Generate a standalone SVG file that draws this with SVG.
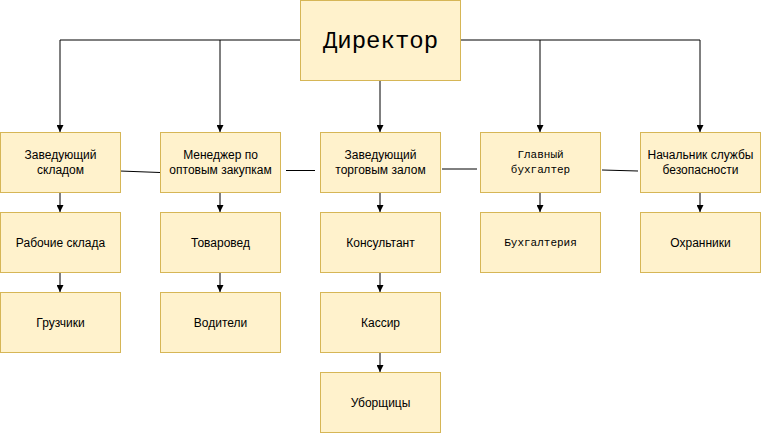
<svg xmlns="http://www.w3.org/2000/svg" width="761" height="433" viewBox="0 0 761 433">
<style>
.box{fill:#fff2cc;stroke:#d6b656;stroke-width:1}
.t{font-family:"Liberation Sans",Arial,sans-serif;font-size:12px;fill:#000;text-anchor:middle}
.m{font-family:"Liberation Mono","Courier New",monospace;fill:#000;text-anchor:middle}
.c{stroke:#000;stroke-width:1;fill:none}
</style>
<defs>
<marker id="ah" viewBox="0 0 10 10" refX="10" refY="5" markerWidth="7" markerHeight="7" markerUnits="userSpaceOnUse" orient="auto"><path d="M0,0 L10,5 L0,10 Z" fill="#000"/></marker>
</defs>
<g id="connectors">
<path class="c" d="M300,40 H60 V132" marker-end="url(#ah)"/>
<path class="c" d="M220,40 V132" marker-end="url(#ah)"/>
<path class="c" d="M380,80 V132" marker-end="url(#ah)"/>
<path class="c" d="M460,40 H700 V132" marker-end="url(#ah)"/>
<path class="c" d="M540,40 V132" marker-end="url(#ah)"/>
<path class="c" d="M60,192 V212" marker-end="url(#ah)"/>
<path class="c" d="M60,272 V292" marker-end="url(#ah)"/>
<path class="c" d="M220,192 V212" marker-end="url(#ah)"/>
<path class="c" d="M220,272 V292" marker-end="url(#ah)"/>
<path class="c" d="M380,192 V212" marker-end="url(#ah)"/>
<path class="c" d="M380,272 V292" marker-end="url(#ah)"/>
<path class="c" d="M380,352 V372" marker-end="url(#ah)"/>
<path class="c" d="M540,192 V212" marker-end="url(#ah)"/>
<path class="c" d="M700,192 V212" marker-end="url(#ah)"/>
<path class="c" d="M120,171 L160,172.5"/>
<path class="c" d="M286,170.5 H315"/>
<path class="c" d="M442,169 H477"/>
<path class="c" d="M602,170 L638,171"/>
</g>
<g id="director"><rect class="box" x="300.5" y="0.5" width="160" height="80"/><text class="m" x="380.5" y="48" font-size="24">Директор</text></g>
<g id="zav-sklad"><rect class="box" x="0.5" y="132.5" width="120" height="60"/><text class="t" x="60.5" y="159">Заведующий</text><text class="t" x="60.5" y="174">складом</text></g>
<g id="manager"><rect class="box" x="160.5" y="132.5" width="120" height="60"/><text class="t" x="220.5" y="159">Менеджер по</text><text class="t" x="220.5" y="174">оптовым закупкам</text></g>
<g id="zav-zal"><rect class="box" x="320.5" y="132.5" width="120" height="60"/><text class="t" x="380.5" y="159">Заведующий</text><text class="t" x="380.5" y="174">торговым залом</text></g>
<g id="buh"><rect class="box" x="480.5" y="132.5" width="120" height="60"/><text class="m" x="540.5" y="158" font-size="11">Главный</text><text class="m" x="540.5" y="173" font-size="11">бухгалтер</text></g>
<g id="security"><rect class="box" x="640.5" y="132.5" width="120" height="60"/><text class="t" x="700.5" y="159">Начальник службы</text><text class="t" x="700.5" y="174">безопасности</text></g>
<g id="workers"><rect class="box" x="0.5" y="212.5" width="120" height="60"/><text class="t" x="60.5" y="246.5">Рабочие склада</text></g>
<g id="loaders"><rect class="box" x="0.5" y="292.5" width="120" height="60"/><text class="t" x="60.5" y="326.5">Грузчики</text></g>
<g id="tovaroved"><rect class="box" x="160.5" y="212.5" width="120" height="60"/><text class="t" x="220.5" y="246.5">Товаровед</text></g>
<g id="drivers"><rect class="box" x="160.5" y="292.5" width="120" height="60"/><text class="t" x="220.5" y="326.5">Водители</text></g>
<g id="consultant"><rect class="box" x="320.5" y="212.5" width="120" height="60"/><text class="t" x="380.5" y="246.5">Консультант</text></g>
<g id="cashier"><rect class="box" x="320.5" y="292.5" width="120" height="60"/><text class="t" x="380.5" y="326.5">Кассир</text></g>
<g id="cleaners"><rect class="box" x="320.5" y="372.5" width="120" height="60"/><text class="t" x="380.5" y="406.5">Уборщицы</text></g>
<g id="accounting"><rect class="box" x="480.5" y="212.5" width="120" height="60"/><text class="m" x="540.5" y="246" font-size="11">Бухгалтерия</text></g>
<g id="guards"><rect class="box" x="640.5" y="212.5" width="120" height="60"/><text class="t" x="700.5" y="246.5">Охранники</text></g>
</svg>
